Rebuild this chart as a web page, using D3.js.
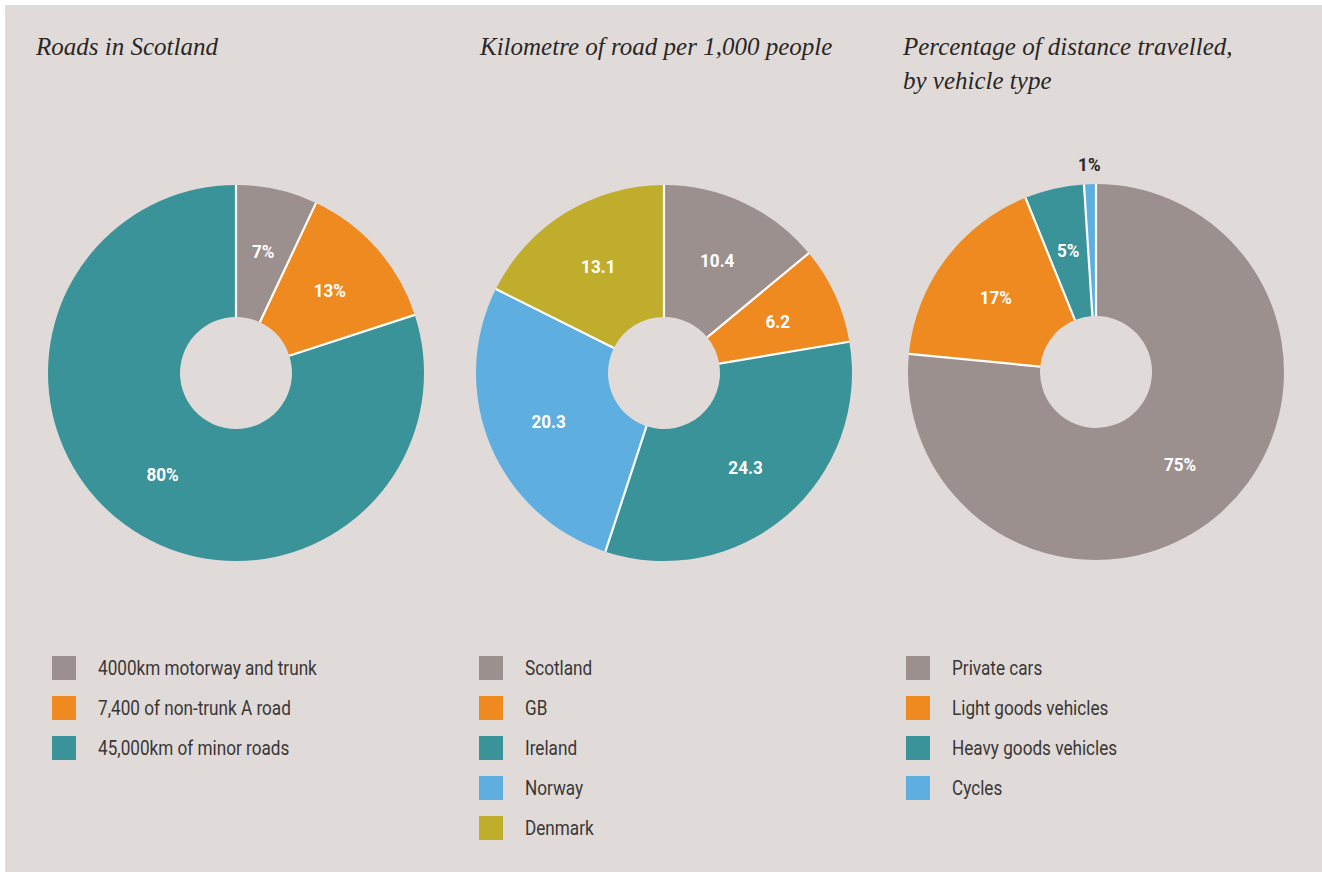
<!DOCTYPE html>
<html>
<head>
<meta charset="utf-8">
<script src="https://cdn.jsdelivr.net/npm/d3@7"></script>
<style>
  body { margin: 0; background: #fff; }
  svg { display: block; }
  .title { font-family: "Liberation Serif", "DejaVu Serif", serif; font-style: italic; font-size: 25px; fill: #2b2626; }
  .slice-label { font-family: Roboto, "DejaVu Sans Condensed", sans-serif; font-weight: bold; font-size: 19px; }
  .legend-text { font-family: Roboto, "DejaVu Sans Condensed", sans-serif; font-weight: 400; font-size: 19.5px; fill: #3a3636; }
</style>
</head>
<body>
<div id="chart"></div>
<script>
var w = 1322, h = 872;

// Roads in Scotland
var roadCategories = ["4000km motorway and trunk", "7,400 of non-trunk A road", "45,000km of minor roads"];
var roadValues = [7, 13, 80];
var roadLabels = ["7%", "13%", "80%"];

// Kilometre of road per 1,000 people
var countryCategories = ["Scotland", "GB", "Ireland", "Norway", "Denmark"];
var countryValues = [10.4, 6.2, 24.3, 20.3, 13.1];
var countryLabels = ["10.4", "6.2", "24.3", "20.3", "13.1"];

// Percentage of distance travelled, by vehicle type
var vehicleCategories = ["Private cars", "Light goods vehicles", "Heavy goods vehicles", "Cycles"];
var vehicleValues = [75, 17, 5, 1];
var vehicleLabels = ["75%", "17%", "5%", "1%"];

var grey = "#9c908f", orange = "#ee8a20", teal = "#3a9399", blue = "#5eaee0", olive = "#c1ad2c";

var svg = d3.select("#chart")
    .append("svg")
    .attr("width", w)
    .attr("height", h);

// panel
svg.append("rect")
    .attr("x", 5)
    .attr("y", 5)
    .attr("width", w - 5)
    .attr("height", h - 5)
    .attr("fill", "#e0dbd8");

var outerR = 188, innerR = 56;

var charts = [
    { cx: 236, cy: 373, titleX: 36, title: ["Roads in Scotland"],
      cats: roadCategories, vals: roadValues, labels: roadLabels, colors: [grey, orange, teal], legendX: 52 },
    { cx: 664, cy: 373, titleX: 480, title: ["Kilometre of road per 1,000 people"],
      cats: countryCategories, vals: countryValues, labels: countryLabels, colors: [grey, orange, teal, blue, olive], legendX: 479 },
    { cx: 1096, cy: 372, titleX: 903, title: ["Percentage of distance travelled,", "by vehicle type"],
      cats: vehicleCategories, vals: vehicleValues, labels: vehicleLabels, colors: [grey, orange, teal, blue], legendX: 906 }
];

var pie = d3.pie().sort(null).value((d) => d);
var arc = d3.arc().innerRadius(innerR).outerRadius(outerR);
var labelArc = d3.arc().innerRadius(125).outerRadius(125);
var outsideArc = d3.arc().innerRadius(outerR + 20).outerRadius(outerR + 20);

charts.forEach(function (c) {
    // title
    svg.append("text")
        .attr("class", "title")
        .selectAll("tspan")
        .data(c.title)
        .enter()
        .append("tspan")
        .attr("x", c.titleX)
        .attr("y", (d, i) => 55 + i * 34)
        .text((d) => d);

    var color = d3.scaleOrdinal().domain(c.cats).range(c.colors);
    var arcs = pie(c.vals);

    var g = svg.append("g")
        .attr("transform", `translate(${c.cx}, ${c.cy})`);

    g.selectAll("path")
        .data(arcs)
        .enter()
        .append("path")
        .attr("d", arc)
        .attr("fill", (d, i) => color(c.cats[i]));

    // white separators on radial edges
    g.selectAll("line")
        .data(arcs)
        .enter()
        .append("line")
        .attr("x1", (d) => innerR * Math.sin(d.startAngle))
        .attr("y1", (d) => -innerR * Math.cos(d.startAngle))
        .attr("x2", (d) => outerR * Math.sin(d.startAngle))
        .attr("y2", (d) => -outerR * Math.cos(d.startAngle))
        .attr("stroke", "#fff")
        .attr("stroke-width", 2.2);

    // labels; tiny slices get their label outside, in dark
    g.selectAll(".slice-label")
        .data(arcs)
        .enter()
        .append("text")
        .attr("class", "slice-label")
        .attr("text-anchor", "middle")
        .attr("dy", "0.35em")
        .attr("transform", function (d) {
            var small = (d.endAngle - d.startAngle) < 0.1;
            var p = small ? outsideArc.centroid(d) : labelArc.centroid(d);
            return `translate(${p[0]}, ${p[1]}) scale(0.9, 1)`;
        })
        .attr("fill", (d) => (d.endAngle - d.startAngle) < 0.1 ? "#2b2626" : "#fff")
        .text((d, i) => c.labels[i]);

    // legend
    var legend = svg.append("g")
        .attr("transform", `translate(${c.legendX}, 656)`);

    var items = legend.selectAll("g")
        .data(c.cats)
        .enter()
        .append("g")
        .attr("transform", (d, i) => `translate(0, ${i * 40})`);

    items.append("rect")
        .attr("width", 24)
        .attr("height", 24)
        .attr("fill", (d) => color(d));

    items.append("text")
        .attr("class", "legend-text")
        .attr("transform", "translate(46, 12) scale(0.88, 1)")
        .attr("dy", "0.35em")
        .text((d) => d);
});
</script>
</body>
</html>
